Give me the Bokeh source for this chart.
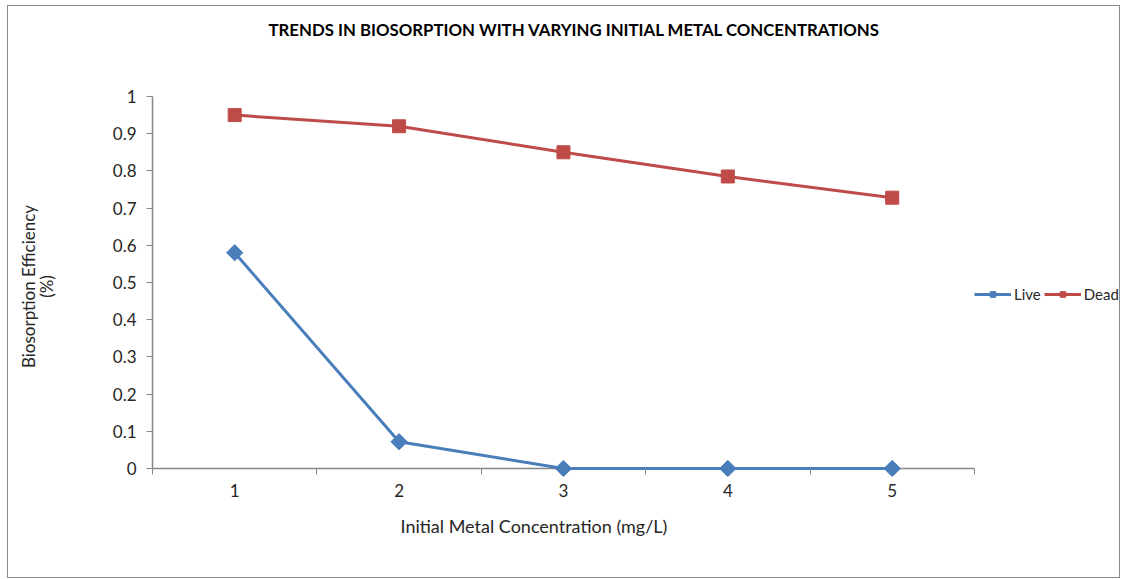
import math
from bokeh.plotting import figure
from bokeh.models import FixedTicker, Legend, LegendItem, Range1d, Title
from bokeh.embed import file_html
from bokeh.resources import INLINE

categories = [1, 2, 3, 4, 5]
live = [0.58, 0.072, 0.0, 0.0, 0.0]
dead = [0.95, 0.92, 0.85, 0.785, 0.728]
y_ticks = [0, 0.1, 0.2, 0.3, 0.4, 0.5, 0.6, 0.7, 0.8, 0.9, 1]
x_boundaries = [0.5, 1.5, 2.5, 3.5, 4.5, 5.5]

FONT = "Lato"
TXT = "#262626"
AX = "#868686"
BLUE = "#4A7EBB"
RED = "#BE4B48"

# frame extends right (legend area) and a little below 0 (so markers at 0 are not clipped)
p = figure(width=1113, height=573, output_backend="svg", toolbar_location=None,
           x_range=Range1d(0.5, 6.395), y_range=Range1d(-0.0215, 1),
           min_border_left=144, min_border_right=0, min_border_top=90, min_border_bottom=103)
p.margin = (5, 0, 0, 7)
p.styles = {"border": "1px solid #8c8c8c"}
p.outline_line_color = None
p.border_fill_color = "white"
p.background_fill_color = "white"
p.xgrid.visible = False
p.ygrid.visible = False

# category axis line at y = 0
p.line([x_boundaries[0], x_boundaries[-1]], [0, 0], line_color=AX, line_width=1.5)

l1 = p.line(categories, live, line_color=BLUE, line_width=3)
m1 = p.scatter(categories, live, marker="square", angle=math.pi / 4, size=11.5,
               fill_color=BLUE, line_color=BLUE)
l2 = p.line(categories, dead, line_color=RED, line_width=3)
m2 = p.scatter(categories, dead, marker="square", size=13, fill_color=RED, line_color=RED)

xa = p.xaxis[0]
xa.bounds = (x_boundaries[0], x_boundaries[-1])
xa.ticker = FixedTicker(ticks=categories, minor_ticks=x_boundaries)
xa.axis_line_color = None
xa.major_tick_line_color = None
xa.major_tick_in = 0
xa.major_tick_out = 0
xa.minor_tick_line_color = AX
xa.minor_tick_line_width = 1
xa.minor_tick_in = 8
xa.minor_tick_out = -2
xa.major_label_text_font = FONT
xa.major_label_text_font_size = "17px"
xa.major_label_text_color = TXT
xa.major_label_standoff = 7

ya = p.yaxis[0]
ya.bounds = (0, 1)
ya.ticker = FixedTicker(ticks=y_ticks)
ya.minor_tick_line_color = None
ya.major_tick_line_color = AX
ya.major_tick_in = 0
ya.major_tick_out = 6
ya.axis_line_color = AX
ya.axis_line_width = 1.5
ya.major_label_overrides = {0: "0", 1: "1"}
ya.major_label_text_font = FONT
ya.major_label_text_font_size = "17px"
ya.major_label_text_color = TXT
ya.major_label_standoff = 10
ya.axis_label = "Biosorption Efficiency\n(%)"
ya.axis_label_text_font = FONT
ya.axis_label_text_font_size = "17px"
ya.axis_label_text_font_style = "normal"
ya.axis_label_text_color = TXT
ya.axis_label_text_line_height = 0.85
ya.axis_label_standoff = 53

# main title (the figure's own title) sits above a blank spacer title
p.title.text = "TRENDS IN BIOSORPTION WITH VARYING INITIAL METAL CONCENTRATIONS"
p.title.align = "left"
p.title.offset = 116
p.title.standoff = 0
p.title.text_font = FONT
p.title.text_font_size = "16.8px"
p.title.text_font_style = "bold"
p.title.text_color = "black"

spacer = Title(text=" ", text_font_size="10px", standoff=44)
p.add_layout(spacer, "above")

xlab = Title(text="Initial Metal Concentration (mg/L)", align="left", offset=248, standoff=27,
             text_font=FONT, text_font_size="18px", text_font_style="normal", text_color=TXT)
p.add_layout(xlab, "below")

legend = Legend(items=[LegendItem(label="Live", renderers=[l1, m1]),
                       LegendItem(label="Dead", renderers=[l2, m2])],
                orientation="horizontal", location=(822, 173),
                glyph_width=37, glyph_height=14, label_standoff=3, spacing=3,
                padding=0, margin=0, border_line_color=None, background_fill_alpha=0,
                label_text_font=FONT, label_text_font_size="15px", label_text_color=TXT)
p.add_layout(legend)

open("out.html", "w").write(file_html(p, INLINE))
